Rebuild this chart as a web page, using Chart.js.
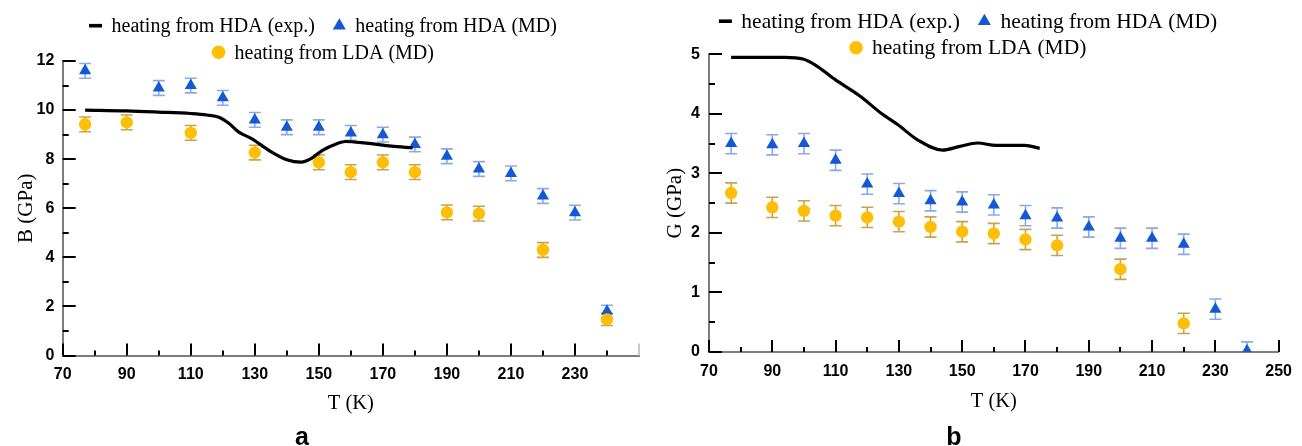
<!DOCTYPE html>
<html>
<head>
<meta charset="utf-8">
<script src="https://cdn.jsdelivr.net/npm/chart.js@4.4.1/dist/chart.umd.min.js"></script>
<style>
html,body{margin:0;padding:0;background:#fff;}
#wrap{position:relative;width:1302px;height:446px;overflow:hidden;}
.panel{position:absolute;top:0;width:651px;height:446px;}
</style>
</head>
<body>
<div id="wrap">
  <div class="panel" style="left:0px"><canvas id="cB"></canvas></div>
  <div class="panel" style="left:651px"><canvas id="cG"></canvas></div>
</div>
<script>
// ---------- legend / series names ----------
const seriesNames = ['heating from HDA (exp.)', 'heating from HDA (MD)', 'heating from LDA (MD)'];

// ---------- panel a : bulk modulus B ----------
const tB_exp = [77, 90, 100, 110, 115, 119, 122, 125, 129, 134.5, 140, 144.5, 147.7, 151, 155.6, 158.2, 164.8, 172.7, 179.3];
const B_exp  = [10.0, 9.97, 9.92, 9.86, 9.8, 9.7, 9.45, 9.1, 8.84, 8.35, 7.98, 7.88, 8.03, 8.35, 8.63, 8.72, 8.65, 8.53, 8.46];

const tB_hda   = [77, 100, 110, 120, 130, 140, 150, 160, 170, 180, 190, 200, 210, 220, 230, 240];
const B_hda    = [11.6, 10.9, 11.0, 10.5, 9.6, 9.3, 9.3, 9.07, 9.0, 8.6, 8.12, 7.6, 7.42, 6.5, 5.82, 1.8];
const B_hdaErr = [0.3, 0.3, 0.3, 0.3, 0.3, 0.3, 0.3, 0.3, 0.3, 0.3, 0.3, 0.3, 0.3, 0.3, 0.3, 0.25];

const tB_lda   = [77, 90, 110, 130, 150, 160, 170, 180, 190, 200, 220, 240];
const B_lda    = [9.42, 9.5, 9.07, 8.27, 7.87, 7.47, 7.87, 7.47, 5.83, 5.78, 4.3, 1.47];
const B_ldaErr = [0.3, 0.3, 0.3, 0.3, 0.3, 0.3, 0.3, 0.3, 0.3, 0.3, 0.3, 0.25];

const xLabelsB = [70, 90, 110, 130, 150, 170, 190, 210, 230];
const yLabelsB = [0, 2, 4, 6, 8, 10, 12];

// ---------- panel b : shear modulus G ----------
const tG_exp = [77, 94, 99.7, 103.6, 110, 117.9, 124.4, 129.6, 136, 143.8, 149, 154.9, 160.7, 169.8, 174.5];
const G_exp  = [4.95, 4.95, 4.92, 4.82, 4.57, 4.29, 4.01, 3.82, 3.56, 3.39, 3.45, 3.51, 3.47, 3.47, 3.42];

const tG_hda   = [77, 90, 100, 110, 120, 130, 140, 150, 160, 170, 180, 190, 200, 210, 220, 230, 240];
const G_hda    = [3.5, 3.48, 3.5, 3.22, 2.82, 2.66, 2.54, 2.52, 2.47, 2.29, 2.25, 2.1, 1.91, 1.91, 1.81, 0.72, 0.02];
const G_hdaErr = [0.17, 0.17, 0.17, 0.17, 0.17, 0.17, 0.17, 0.17, 0.17, 0.17, 0.17, 0.17, 0.17, 0.17, 0.17, 0.17, 0.15];

const tG_lda   = [77, 90, 100, 110, 120, 130, 140, 150, 160, 170, 180, 200, 220];
const G_lda    = [2.67, 2.43, 2.37, 2.29, 2.26, 2.19, 2.1, 2.02, 1.99, 1.89, 1.79, 1.39, 0.48];
const G_ldaErr = [0.17, 0.17, 0.17, 0.17, 0.17, 0.17, 0.17, 0.17, 0.17, 0.17, 0.17, 0.17, 0.17];

const xLabelsG = [70, 90, 110, 130, 150, 170, 190, 210, 230, 250];
const yLabelsG = [0, 1, 2, 3, 4, 5];

// ---------- styling ----------
const COL = { hda: '#1459d4', hdaErr: '#88aaec', lda: '#ffbf00', ldaErr: '#c9a24e', axis: '#7d7d7d' };
const pts = (xs, ys) => xs.map((x, i) => ({ x: x, y: ys[i] }));

function drawTicks(chart, o) {
  const { ctx, chartArea: a, scales: { x, y } } = chart;
  ctx.save();
  ctx.lineWidth = 2;
  ctx.lineCap = 'butt';
  const xMin = x.min, xMax = x.max, xStep = o.xStep / 2;
  let k = 0;
  for (let v = xMin; v <= xMax + 1e-9; v += xStep, k++) {
    const px = Math.round(x.getPixelForValue(v));
    const major = k % 2 === 0;
    const len = major ? 12 : 5;
    ctx.strokeStyle = (Math.abs(v - xMax) < 1e-9 && o.lastXTickGray) ? '#c8c8c8' : '#000';
    ctx.beginPath(); ctx.moveTo(px, a.bottom); ctx.lineTo(px, a.bottom - len); ctx.stroke();
  }
  const yMin = y.min, yMax = y.max, yStep = o.yStep / 2;
  k = 0;
  for (let v = yMin; v <= yMax + 1e-9; v += yStep, k++) {
    const py = Math.round(y.getPixelForValue(v));
    const major = k % 2 === 0;
    const len = major ? 13 : 6;
    ctx.strokeStyle = '#000';
    ctx.beginPath(); ctx.moveTo(a.left, py); ctx.lineTo(a.left + len, py); ctx.stroke();
  }
  ctx.restore();
}

function drawErrorBars(chart) {
  const { ctx, chartArea: a, scales: { y } } = chart;
  ctx.save();
  ctx.beginPath(); ctx.rect(a.left, a.top - 1, a.right - a.left, a.bottom - a.top + 1); ctx.clip();
  chart.data.datasets.forEach((ds, i) => {
    if (!ds.errorBars) return;
    const meta = chart.getDatasetMeta(i);
    ctx.strokeStyle = ds.errorColor;
    ctx.lineWidth = 1.6;
    meta.data.forEach((el, j) => {
      const v = ds.data[j].y, e = ds.errorBars[j];
      const x = el.x;
      const y1 = y.getPixelForValue(v + e), y2 = y.getPixelForValue(v - e);
      ctx.beginPath();
      ctx.moveTo(x, y1); ctx.lineTo(x, y2);
      ctx.moveTo(x - 6, y1); ctx.lineTo(x + 6, y1);
      ctx.moveTo(x - 6, y2); ctx.lineTo(x + 6, y2);
      ctx.stroke();
    });
  });
  ctx.restore();
}

function drawMarker(ctx, ds, cx, cy) {
  ctx.fillStyle = ds.kind === 'line' ? '#000' : ds.backgroundColor;
  if (ds.kind === 'line') {
    ctx.fillRect(cx - 6.5, cy - 1.8, 13, 3.6);
  } else if (ds.kind === 'triangle') {
    const r = 7.5;
    ctx.beginPath();
    ctx.moveTo(cx, cy - r);
    ctx.lineTo(cx + Math.sin(2 * Math.PI / 3) * r, cy + r / 2);
    ctx.lineTo(cx - Math.sin(2 * Math.PI / 3) * r, cy + r / 2);
    ctx.closePath(); ctx.fill();
  } else {
    ctx.beginPath(); ctx.arc(cx, cy, 6.8, 0, Math.PI * 2); ctx.fill();
  }
}

function drawLegend(chart, o) {
  const ctx = chart.ctx;
  const ds = chart.data.datasets;
  ctx.save();
  ctx.font = o.legFont + 'px "Liberation Serif"';
  ctx.textBaseline = 'alphabetic';
  ctx.textAlign = 'left';
  const MW = 13, GAP = 9.5, ITEMGAP = 18;
  [[0, 1], [2]].forEach((row, r) => {
    const base = o.legBase[r];
    const widths = row.map(i => MW + GAP + ctx.measureText(ds[i].label).width);
    const total = widths.reduce((s, w) => s + w, 0) + ITEMGAP * (row.length - 1);
    let x = o.legCx - total / 2;
    row.forEach((i, k) => {
      drawMarker(ctx, ds[i], x + MW / 2, base - 6.3);
      ctx.fillStyle = '#000';
      ctx.fillText(ds[i].label, x + MW + GAP, base);
      x += widths[k] + ITEMGAP;
    });
  });
  ctx.font = 'bold 25px "Liberation Sans"';
  ctx.textAlign = 'center';
  ctx.fillStyle = '#000';
  ctx.fillText(o.panel, o.panelX, o.panelBase);
  ctx.restore();
}

function makeChart(id, o) {
  return new Chart(document.getElementById(id), {
    type: 'scatter',
    data: {
      datasets: [
        { label: seriesNames[0], kind: 'line', data: pts(o.tExp, o.vExp), showLine: true,
          borderColor: '#000', borderWidth: 3.2, pointRadius: 0, cubicInterpolationMode: 'monotone', order: 0 },
        { label: seriesNames[1], kind: 'triangle', data: pts(o.tHda, o.vHda), pointStyle: 'triangle',
          pointRadius: 7, backgroundColor: COL.hda, borderColor: COL.hda, borderWidth: 0, order: 2,
          errorBars: o.eHda, errorColor: COL.hdaErr },
        { label: seriesNames[2], kind: 'circle', data: pts(o.tLda, o.vLda), pointStyle: 'circle',
          pointRadius: 6.2, backgroundColor: COL.lda, borderColor: COL.lda, borderWidth: 0, order: 1,
          errorBars: o.eLda, errorColor: COL.ldaErr }
      ]
    },
    options: {
      responsive: true, maintainAspectRatio: false, animation: false, events: [],
      layout: { padding: o.pad },
      plugins: { legend: { display: false }, tooltip: { enabled: false } },
      scales: {
        x: {
          type: 'linear', position: 'bottom',
          min: o.xLabels[0], max: 250,
          ticks: { stepSize: o.xStep, autoSkip: false, maxRotation: 0, minRotation: 0, padding: o.xTickPad, color: '#000',
                   font: { family: 'Liberation Sans', weight: 'bold', size: 16 },
                   callback: v => o.xLabels.includes(Math.round(v)) ? String(Math.round(v)) : '' },
          grid: { display: false, drawTicks: false },
          border: { display: true, color: COL.axis, width: 2 },
          title: { display: true, text: 'T (K)', color: '#000', font: { family: 'Liberation Serif', size: 20.5 },
                   padding: { top: 0, bottom: o.xTitlePad } },
          afterFit: s => { s.height = o.xAxisH; }
        },
        y: {
          type: 'linear', position: 'left',
          min: o.yLabels[0], max: o.yLabels[o.yLabels.length - 1],
          ticks: { stepSize: o.yStep, padding: o.yTickPad, color: '#000',
                   font: { family: 'Liberation Sans', weight: 'bold', size: 16 },
                   callback: v => o.yLabels.includes(v) ? String(v) : '' },
          grid: { display: false, drawTicks: false },
          border: { display: true, color: COL.axis, width: 2 },
          title: { display: true, text: o.yTitle, color: '#000', font: { family: 'Liberation Serif', size: 21 },
                   padding: { top: o.yTitlePad, bottom: 0 } },
          afterFit: s => { s.width = o.yAxisW; }
        }
      }
    },
    plugins: [{
      id: 'decor_' + id,
      beforeDatasetsDraw(chart) { drawTicks(chart, o); drawErrorBars(chart); },
      afterDraw(chart) { drawLegend(chart, o); }
    }]
  });
}

makeChart('cB', {
  tExp: tB_exp, vExp: B_exp, tHda: tB_hda, vHda: B_hda, eHda: B_hdaErr, tLda: tB_lda, vLda: B_lda, eLda: B_ldaErr,
  xLabels: xLabelsB, yLabels: yLabelsB, xStep: 20, yStep: 2, yTitle: 'B (GPa)',
  pad: { left: 0, right: 12, top: 61, bottom: 0 }, yAxisW: 62.7, xAxisH: 90.5,
  xTickPad: 9, yTickPad: 8.4, xTitlePad: 30, yTitlePad: 14, lastXTickGray: true,
  legFont: 20, legCx: 323, legBase: [32, 58.5], panel: 'a', panelX: 302, panelBase: 445
});

makeChart('cG', {
  tExp: tG_exp, vExp: G_exp, tHda: tG_hda, vHda: G_hda, eHda: G_hdaErr, tLda: tG_lda, vLda: G_lda, eLda: G_ldaErr,
  xLabels: xLabelsG, yLabels: yLabelsG, xStep: 20, yStep: 1, yTitle: 'G (GPa)',
  pad: { left: 0, right: 17.5, top: 54.3, bottom: 0 }, yAxisW: 58, xAxisH: 94,
  xTickPad: 10, yTickPad: 9, xTitlePad: 32, yTitlePad: 12, lastXTickGray: false,
  legFont: 21.5, legCx: 317, legBase: [27.5, 54], panel: 'b', panelX: 303, panelBase: 445
});
</script>
</body>
</html>
